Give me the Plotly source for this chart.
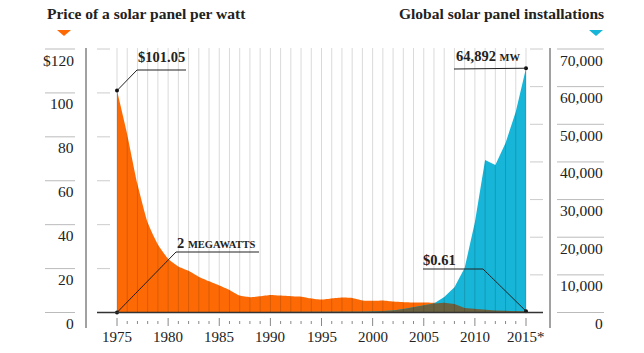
import plotly.graph_objects as go

# ---------------- data ----------------
years = list(range(1975, 2016))
price = [101.05, 81.0, 58.5, 41.0, 31.0, 24.5, 21.0, 19.0, 16.3, 14.2,
         12.3, 10.3, 7.7, 7.0, 7.4, 8.0, 7.7, 7.4, 7.2, 6.4,
         5.9, 6.4, 6.8, 6.6, 5.5, 5.3, 5.5, 5.0, 4.7, 4.6,
         4.5, 4.4, 4.4, 3.9, 2.0, 1.6, 1.2, 0.9, 0.75, 0.7, 0.61]
installs = [2, 2.5, 3, 4, 5, 7, 9, 11, 17, 20,
            23, 26, 29, 34, 40, 46, 55, 58, 61, 69,
            78, 89, 126, 153, 201, 250, 330, 550, 950, 1500,
            2000, 2400, 4100, 6700, 11800, 24000, 40500, 39200, 45000, 53300, 64892]
left_ticks = [0, 20, 40, 60, 80, 100, 120]
left_labels = ["0", "20", "40", "60", "80", "100", "$120"]
right_ticks = [0, 10000, 20000, 30000, 40000, 50000, 60000, 70000]
right_labels = ["0", "10,000", "20,000", "30,000", "40,000", "50,000", "60,000", "70,000"]
label_years = [1975, 1980, 1985, 1990, 1995, 2000, 2005, 2010, 2015]
left_title = "Price of a solar panel per watt"
right_title = "Global solar panel installations"

# ---------------- geometry ----------------
W, H = 644, 353
PL, PR, PT, PB = 86, 550, 48, 328          # plot area in px
PPY = 10.225                                # px per year
X1975 = 117
ZERO = 312.5
PPU = (ZERO - 49) / 120.0                   # px per left-axis unit
R = 70000 / 120.0                           # right/left scale ratio

x_lo = 1975 - (X1975 - PL) / PPY
x_hi = x_lo + (PR - PL) / PPY
y_lo = -(PB - ZERO) / PPU
y_hi = (ZERO - PT) / PPU


def xd(px):
    return x_lo + (px - PL) / PPY


def yd(py):
    return (ZERO - py) / PPU


def y2d(py):
    return yd(py) * R


def xp(px):
    return (px - PL) / (PR - PL)


def yp(py):
    return (PB - py) / (PB - PT)


ORANGE = "#fd6a05"
CYAN = "#17b5d7"
OLIVE = "#6a6140"
INK = "#222222"
FONT = "Liberation Serif"

# overlap of the two areas, in right-axis units
overlap = [min(p * R, i) for p, i in zip(price, installs)]

fig = go.Figure()
fig.add_trace(go.Scatter(x=years, y=price, mode="lines", line=dict(width=0, color=ORANGE, shape="spline", smoothing=0.5),
                         fill="tozeroy", fillcolor=ORANGE, hoverinfo="skip"))
fig.add_trace(go.Scatter(x=years, y=installs, yaxis="y2", mode="lines", line=dict(width=0, color=CYAN),
                         fill="tozeroy", fillcolor=CYAN, hoverinfo="skip"))
fig.add_trace(go.Scatter(x=years, y=overlap, yaxis="y2", mode="lines", line=dict(width=0, color=OLIVE),
                         fill="tozeroy", fillcolor=OLIVE, hoverinfo="skip"))

shapes = []
ann = []

# vertical gridlines (above areas, translucent) and year ticks
for yr in years:
    shapes.append(dict(type="line", xref="x", yref="y", x0=yr, x1=yr, y0=0, y1=yd(48),
                       line=dict(color="rgba(0,0,0,0.15)", width=1), layer="above"))
    major = yr % 5 == 0
    shapes.append(dict(type="line", xref="x", yref="y", x0=yr, x1=yr,
                       y0=yd(318 if major else 321), y1=yd(326 if major else 324),
                       line=dict(color="#888", width=1), layer="above"))

# baseline
shapes.append(dict(type="line", xref="paper", yref="y", x0=xp(97), x1=xp(543), y0=0, y1=0,
                   line=dict(color="#333", width=1.5), layer="above"))
# axis verticals
for px in (PL, PR):
    shapes.append(dict(type="line", xref="paper", yref="paper", x0=xp(px), x1=xp(px), y0=0, y1=1,
                       line=dict(color="#444", width=1), layer="above"))

# left ticks
for v, lab in zip(left_ticks, left_labels):
    shapes.append(dict(type="line", xref="paper", yref="y", x0=xp(45), x1=xp(75), y0=v, y1=v,
                       line=dict(color="#bbb", width=1)))
    if v > 0:
        shapes.append(dict(type="line", xref="paper", yref="y", x0=xp(97), x1=xp(110), y0=v, y1=v,
                           line=dict(color="#ccc", width=1)))
    ann.append(dict(xref="paper", yref="y", x=xp(76), y=v, yshift=-11, text=lab, showarrow=False,
                    xanchor="right", yanchor="middle", font=dict(family=FONT, size=15.5, color=INK)))

# right ticks
for v, lab in zip(right_ticks, right_labels):
    shapes.append(dict(type="line", xref="paper", yref="y2", x0=xp(557), x1=xp(604), y0=v, y1=v,
                       line=dict(color="#bbb", width=1)))
    if v > 0:
        shapes.append(dict(type="line", xref="paper", yref="y2", x0=xp(530), x1=xp(543), y0=v, y1=v,
                           line=dict(color="#ccc", width=1)))
    ann.append(dict(xref="paper", yref="y2", x=xp(605), y=v, yshift=-11, text=lab, showarrow=False,
                    xanchor="right", yanchor="middle", font=dict(family=FONT, size=15.5, color=INK)))

# x labels
for yr in label_years:
    txt = f"{yr}*" if yr == years[-1] else str(yr)
    ann.append(dict(xref="x", yref="paper", x=yr, y=yp(337), text=txt, showarrow=False,
                    xanchor="center", yanchor="middle", font=dict(family=FONT, size=15, color=INK)))

# titles
ann.append(dict(xref="paper", yref="paper", x=xp(45), y=yp(13), text=f"<b>{left_title}</b>", showarrow=False,
                xanchor="left", yanchor="middle", font=dict(family=FONT, size=15.5, color=INK)))
ann.append(dict(xref="paper", yref="paper", x=xp(606), y=yp(13), text=f"<b>{right_title}</b>", showarrow=False,
                xanchor="right", yanchor="middle", font=dict(family=FONT, size=15.5, color=INK)))


# triangles
def tri(cx, color):
    path = f"M {xp(cx-7)},{yp(30)} L {xp(cx+7)},{yp(30)} L {xp(cx)},{yp(36)} Z"
    return dict(type="path", xref="paper", yref="paper", path=path, fillcolor=color, line=dict(width=0))


shapes.append(tri(64, ORANGE))
shapes.append(tri(596, CYAN))

# callouts
LC = dict(color=INK, width=1)
AF = dict(family=FONT, size=14.5, color=INK)
# $101.05
shapes.append(dict(type="line", xref="x", yref="y", x0=years[0], y0=price[0], x1=xd(137), y1=yd(70), line=LC, layer="above"))
shapes.append(dict(type="line", xref="x", yref="y", x0=xd(137), y0=yd(70), x1=xd(186), y1=yd(70), line=LC, layer="above"))
ann.append(dict(xref="x", yref="y", x=xd(136), y=yd(57), text=f"<b>${price[0]:.2f}</b>", showarrow=False,
                xanchor="left", yanchor="middle", font=AF))
# 2 MEGAWATTS
shapes.append(dict(type="line", xref="x", yref="y2", x0=years[0], y0=installs[0], x1=xd(176), y1=y2d(252), line=LC, layer="above"))
shapes.append(dict(type="line", xref="x", yref="y2", x0=xd(176), y0=y2d(252), x1=xd(259), y1=y2d(252), line=LC, layer="above"))
ann.append(dict(xref="x", yref="y2", x=xd(175), y=y2d(243),
                text=f"<b>{installs[0]} <span style='font-size:10.5px'>MEGAWATTS</span></b>", showarrow=False,
                xanchor="left", yanchor="middle", font=AF))
# $0.61
shapes.append(dict(type="line", xref="x", yref="y", x0=years[-1], y0=price[-1], x1=xd(483), y1=yd(269), line=LC, layer="above"))
shapes.append(dict(type="line", xref="x", yref="y", x0=xd(483), y0=yd(269), x1=xd(423), y1=yd(269), line=LC, layer="above"))
ann.append(dict(xref="x", yref="y", x=xd(421), y=yd(260), text=f"<b>${price[-1]:.2f}</b>", showarrow=False,
                xanchor="left", yanchor="middle", font=AF))
# 64,892 MW
shapes.append(dict(type="line", xref="x", yref="y2", x0=years[-1], y0=installs[-1], x1=xd(454), y1=y2d(69), line=LC, layer="above"))
ann.append(dict(xref="x", yref="y2", x=xd(522), y=y2d(56),
                text=f"<b>{installs[-1]:,} <span style='font-size:10.5px'>MW</span></b>", showarrow=False,
                xanchor="right", yanchor="middle", font=AF))

# dots at data points (all on the overlaying axis so they sit above the areas)
fig.add_trace(go.Scatter(x=[years[0], years[-1], years[0], years[-1]],
                         y=[price[0] * R, price[-1] * R, installs[0], installs[-1]],
                         yaxis="y2", mode="markers", marker=dict(size=4, color="#111"), hoverinfo="skip"))

fig.update_layout(
    width=W, height=H, autosize=False,
    margin=dict(l=PL, r=W - PR, t=PT, b=H - PB, pad=0),
    paper_bgcolor="white", plot_bgcolor="white", showlegend=False,
    xaxis=dict(range=[x_lo, x_hi], visible=False, fixedrange=True),
    yaxis=dict(range=[y_lo, y_hi], visible=False, fixedrange=True),
    yaxis2=dict(range=[y_lo * R, y_hi * R], visible=False, overlaying="y", side="right", fixedrange=True),
    shapes=shapes, annotations=ann,
)

fig.write_html("out.html", config={"displayModeBar": False})
